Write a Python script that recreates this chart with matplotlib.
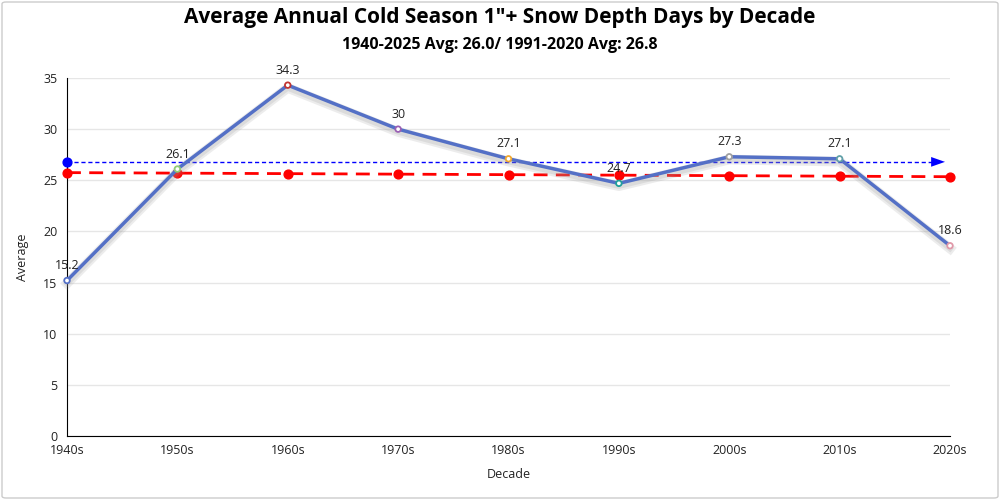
import numpy as np
import matplotlib
matplotlib.use('Agg')
import matplotlib.pyplot as plt
import matplotlib.patheffects as pe
from matplotlib.patches import FancyBboxPatch

plt.rcParams['font.family'] = ['Open Sans', 'DejaVu Sans']

# ── data ─────────────────────────────────────────────
decades = ['1940s', '1950s', '1960s', '1970s', '1980s', '1990s', '2000s', '2010s', '2020s']
averages = [15.2, 26.1, 34.3, 30, 27.1, 24.7, 27.3, 27.1, 18.6]
trend = [25.75, 25.7, 25.65, 25.6, 25.55, 25.5, 25.45, 25.4, 25.35]
normal_avg = 26.8
point_colors = ['#5470c6', '#91cc75', '#c23531', '#9a60b4', '#f0a830',
                '#20a09a', '#a0a0a0', '#61a0a8', '#e098a8']

LINE = '#5470c6'

fig = plt.figure(figsize=(10, 5), dpi=100)
fig.patch.set_facecolor('white')
fig.patches.append(FancyBboxPatch((0.002, 0.004), 0.996, 0.992,
                                  boxstyle='round,pad=0,rounding_size=0.004',
                                  transform=fig.transFigure, fill=False,
                                  edgecolor='#cccccc', lw=1))

ax = fig.add_axes([0.067, 0.128, 0.883, 0.716])
x = np.arange(len(decades))

# grid
ax.set_ylim(0, 35)
ax.set_xlim(0, len(decades) - 1)
ax.set_yticks(range(0, 36, 5))
ax.grid(axis='y', color='#e6e6e6', lw=1)
ax.set_axisbelow(True)

# trend line (red dashed) with dots
ax.plot(x, trend, color='red', lw=2, ls=(0, (5, 3)), zorder=3, clip_on=False)
ax.scatter(x, trend, color='red', s=40, zorder=4, clip_on=False)

# 1991-2020 average (blue dotted with arrow)
ax.plot([0, len(decades) - 1 - 0.1], [normal_avg, normal_avg], color='blue',
        lw=1, ls=(0, (3, 2)), zorder=3)
ax.scatter([0], [normal_avg], color='blue', s=40, zorder=4, clip_on=False)
ax.annotate('', xy=(len(decades) - 1 - 0.02, normal_avg),
            xytext=(len(decades) - 1 - 0.2, normal_avg),
            arrowprops=dict(arrowstyle='-|>,head_length=1.0,head_width=0.35',
                            color='blue', lw=0), zorder=5)

# main series
ax.plot(x, averages, color=LINE, lw=2.5, zorder=5, clip_on=False,
        path_effects=[pe.SimpleLineShadow(offset=(0, -2), shadow_color='#999999', alpha=0.18, linewidth=7),
                      pe.SimpleLineShadow(offset=(0, -2), shadow_color='#999999', alpha=0.2, linewidth=4),
                      pe.Normal()])
ax.scatter(x, averages, facecolor='white', edgecolor=point_colors, s=16, lw=1.3, zorder=6,
           clip_on=False)
for xi, v in zip(x, averages):
    ax.annotate(f'{v:g}', (xi, v), xytext=(0, 6), textcoords='offset points',
                ha='center', va='bottom', fontsize=9, color='#222222', zorder=7)

for s in ['top', 'right']:
    ax.spines[s].set_visible(False)
ax.spines['left'].set_color('black')
ax.spines['bottom'].set_color('black')
ax.tick_params(length=0, labelsize=9, colors='#222222')
ax.tick_params(axis='x', pad=6)
ax.tick_params(axis='y', pad=7)
ax.set_xticks(x)
ax.set_xticklabels(decades)
ax.set_xlabel('Decade', fontsize=9, color='#222222', labelpad=8)
ax.set_ylabel('Average', fontsize=9, color='#222222', labelpad=10)

fig.text(0.5, 0.965, 'Average Annual Cold Season 1"+ Snow Depth Days by Decade',
         ha='center', va='center', fontsize=15, fontweight='bold')
fig.text(0.5, 0.91, '1940-2025 Avg: 26.0/ 1991-2020 Avg: 26.8',
         ha='center', va='center', fontsize=11.5, fontweight='bold')

plt.savefig('out.png', dpi=100)
